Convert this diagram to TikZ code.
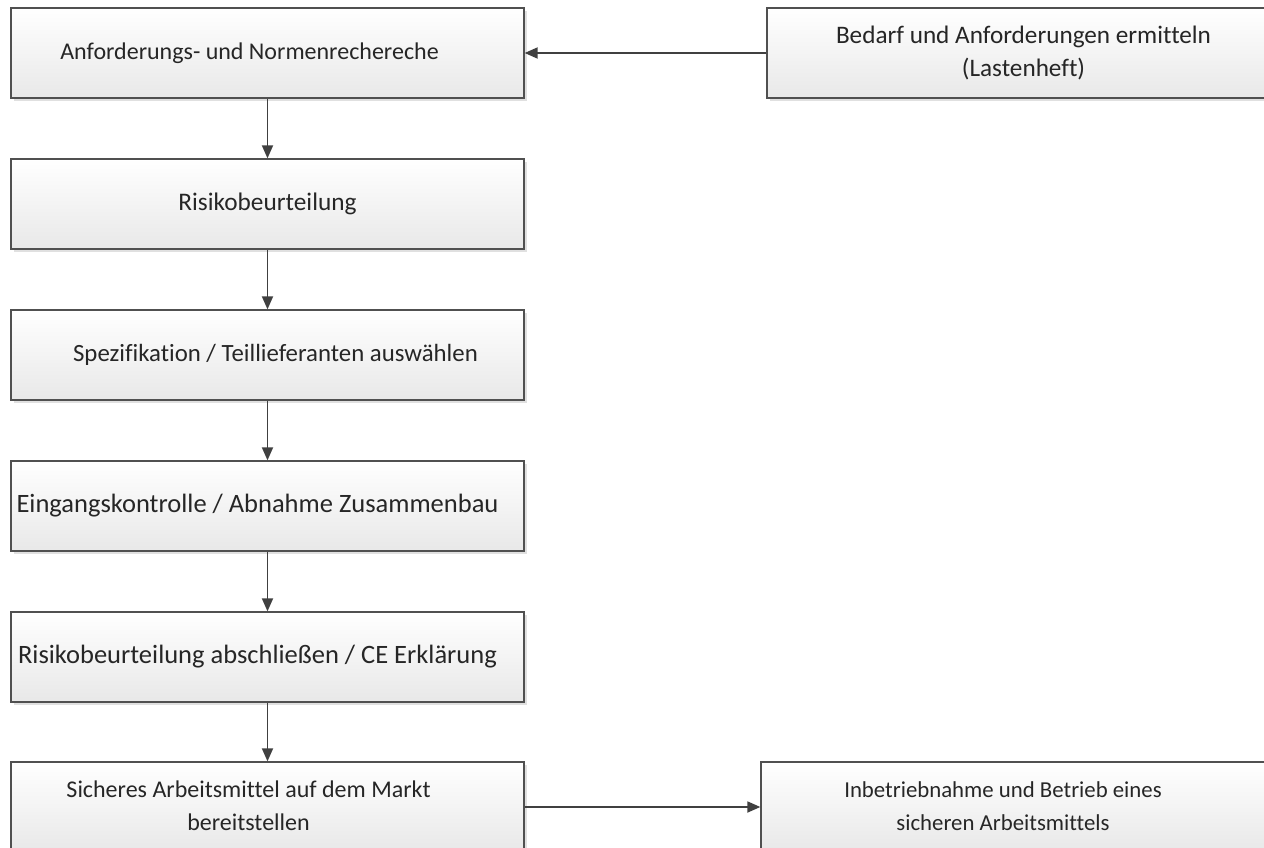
\documentclass[tikz,border=0pt]{standalone}
\usepackage{fontspec}
\setmainfont{Carlito}[Ligatures=NoCommon]
\usetikzlibrary{arrows.meta,shadows}
\definecolor{rahmen}{HTML}{505050}
\definecolor{pfeil}{HTML}{404040}
% text inside a box, moved left (#1) or right (#2)
\newcommand{\textlinks}[2]{\begin{tabular}{@{}c@{}}#2\end{tabular}\hspace*{#1}}
\newcommand{\textrechts}[2]{\hspace*{#1}\begin{tabular}{@{}c@{}}#2\end{tabular}}
\newcommand{\gr}[1]{\fontsize{#1}{33}\selectfont}

\begin{document}
\begin{tikzpicture}[x=1pt, y=-1pt,
	schritt/.style={draw=rahmen, line width=1.3pt, top color=white, bottom color=black!9,
		minimum width=513pt, minimum height=90pt, align=center, font=\gr{24},
		text=black!85, drop shadow={shadow xshift=3pt, shadow yshift=-3pt, fill=black!12, opacity=1}},
	eng/.style={inner xsep=0pt},
	fluss/.style={draw=pfeil, line width=1.8pt, -{Triangle[length=13pt, width=11pt]}}]
			%%%%% START %%%%%
			
			\useasboundingbox (0, 0) rectangle (1264, 848);
			
			\node[schritt] (norm) at (267.5, 53) {\textlinks{36pt}{Anforderungs- und Normenrechereche}};
			\node[schritt, font=\gr{25.2}] (bedarf) at (1023.5, 53) {Bedarf und Anforderungen ermitteln\\(Lastenheft)};
			
			\node[schritt, font=\gr{25.3}] (risiko) at (267.5, 204) {Risikobeurteilung};
			\node[schritt, font=\gr{24.8}] (spez) at (267.5, 355) {\textrechts{16pt}{Spezifikation / Teillieferanten auswählen}};
			\node[schritt, eng, font=\gr{26.5}] (eingang) at (267.5, 506) {\textlinks{20pt}{Eingangskontrolle / Abnahme Zusammenbau}};
			\node[schritt, eng, font=\gr{26.5}] (ce) at (267.5, 657) {\textlinks{20pt}{Risikobeurteilung abschließen / CE Erklärung}};
			\node[schritt] (markt) at (267.5, 807) {\textlinks{38pt}{Sicheres Arbeitsmittel auf dem Markt\\bereitstellen}};
			
			\node[schritt, font=\gr{22.8}, minimum width=526pt] (betrieb) at (1024, 807) {\textlinks{42pt}{Inbetriebnahme und Betrieb eines\\sicheren Arbeitsmittels}};
			
			\draw[fluss] (bedarf) -- (norm);
			\draw[fluss] (norm) -- (risiko);
			\draw[fluss] (risiko) -- (spez);
			\draw[fluss] (spez) -- (eingang);
			\draw[fluss] (eingang) -- (ce);
			\draw[fluss] (ce) -- (markt);
			\draw[fluss] (markt) -- (betrieb);
			
			%%%%% END %%%%%
		\end{tikzpicture}
\end{document}
